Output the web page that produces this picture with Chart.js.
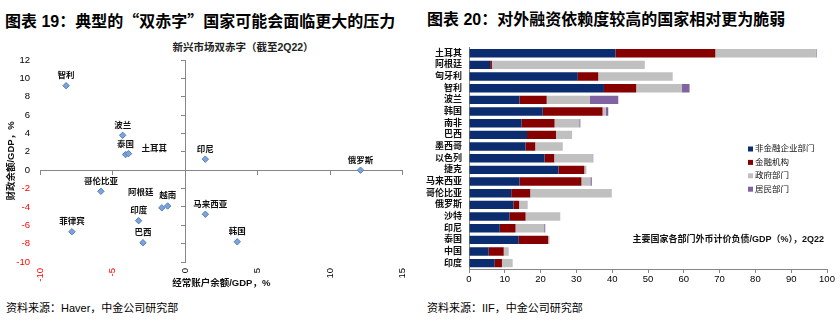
<!DOCTYPE html>
<html>
<head>
<meta charset="utf-8">
<script src="https://cdn.jsdelivr.net/npm/chart.js@4"></script>
<style>
  body { margin: 0; width: 840px; height: 325px; background: #fff; position: relative; overflow: hidden;
         font-family: "Liberation Sans", "Noto Sans CJK SC", sans-serif; color: #000; }
  .title { position: absolute; top: 10px; line-height: 20px; font-size: 16px; font-weight: bold; white-space: nowrap; }
  .cjk { font-family: "Noto Sans CJK SC", sans-serif; }
  .sub { position: absolute; font-size: 10.5px; font-weight: bold; white-space: nowrap; color: #222; }
  .source { position: absolute; top: 300px; line-height: 16px; font-size: 11px; white-space: nowrap; }
  canvas { position: absolute; top: 35px; }
</style>
</head>
<body>
<div class="title" style="left:5px">图表 19：典型的<span class="cjk">“</span>双赤字<span class="cjk">”</span>国家可能会面临更大的压力</div>
<div class="title" style="left:427px">图表 20：对外融资依赖度较高的国家相对更为脆弱</div>
<div class="sub" style="left:243px; top:39px; transform: translateX(-50%);">新兴市场双赤字（截至2Q22）</div>
<canvas id="twinChart" width="420" height="260" style="left:0"></canvas>
<canvas id="debtChart" width="420" height="260" style="left:420px"></canvas>
<div class="source" style="left:6px">资料来源：Haver，中金公司研究部</div>
<div class="source" style="left:427px">资料来源：IIF，中金公司研究部</div>

<script>
// ---- left chart: current account vs fiscal balance (% of GDP)
const countries = ["智利", "波兰", "泰国", "土耳其", "印尼", "俄罗斯", "哥伦比亚", "阿根廷", "越南", "印度", "菲律宾", "巴西", "马来西亚", "韩国"];
const currentAccount = [-8.2, -4.3, -4.1, -3.9, 1.4, 12.1, -5.8, -1.6, -1.2, -3.2, -7.8, -2.9, 1.4, 3.6];
const fiscalBalance = [9.2, 3.8, 1.7, 1.8, 1.2, 0.0, -2.3, -4.1, -3.9, -5.5, -6.7, -7.9, -4.8, -7.8];
const xTicks = [-10, -5, 0, 5, 10, 15];
const yTicks = [-10, -8, -6, -4, -2, 0, 2, 4, 6, 8, 10, 12];

// ---- right chart: FX-denominated debt / GDP by sector
const debtCountries = ["土耳其", "阿根廷", "匈牙利", "智利", "波兰", "韩国", "南非", "巴西", "墨西哥", "以色列", "捷克", "马来西亚", "哥伦比亚", "俄罗斯", "沙特", "印尼", "泰国", "中国", "印度"];
const nonFinCorp = [40.9, 5.9, 30.4, 37.7, 14.1, 20.6, 14.7, 16.2, 15.8, 21.1, 25.0, 14.1, 11.8, 12.4, 11.3, 8.6, 13.9, 5.5, 7.2];
const financial = [27.9, 0.5, 5.7, 9.0, 7.6, 16.7, 9.2, 8.1, 2.7, 2.7, 7.2, 17.3, 5.3, 1.6, 4.5, 4.4, 8.2, 4.2, 2.0];
const government = [28.1, 42.5, 20.8, 12.8, 12.1, 0.9, 6.9, 4.5, 7.7, 10.7, 0.6, 2.5, 22.8, 2.4, 9.7, 8.0, 0.4, 1.4, 3.0];
const household = [0.2, 0.1, 0, 2.1, 7.9, 0.7, 0.3, 0, 0, 0.2, 0, 0.4, 0, 0, 0, 0.3, 0, 0, 0];
const sectorNames = ["非金融企业部门", "金融机构", "政府部门", "居民部门"];
const debtTicks = [0, 10, 20, 30, 40, 50, 60, 70, 80, 90, 100];

Chart.defaults.font.family = '"Liberation Sans", "Noto Sans CJK SC", sans-serif';
Chart.defaults.color = "#000";

const AXIS = "#868686";
const negRed = ctx => (ctx.tick && ctx.tick.value < 0 ? "#ff0000" : "#000");

// labels next to the scatter points; most sit just above the marker
const labelShift = { "土耳其": [13, -5, "left"], "阿根廷": [-21, -15, "center"], "马来西亚": [5, -10, "center"] };
const pointLabels = {
  id: "pointLabels",
  afterDatasetsDraw(chart) {
    const c = chart.ctx;
    const meta = chart.getDatasetMeta(0);
    c.save();
    c.font = 'bold 8.5px "Liberation Sans", "Noto Sans CJK SC", sans-serif';
    c.fillStyle = "#111";
    c.textBaseline = "middle";
    meta.data.forEach((pt, i) => {
      const name = countries[i];
      const s = labelShift[name] || [0, -10, "center"];
      c.textAlign = s[2];
      c.fillText(name, pt.x + s[0], pt.y + s[1]);
    });
    c.restore();
  }
};

new Chart(document.getElementById("twinChart"), {
  type: "scatter",
  data: {
    datasets: [{
      data: countries.map((_, i) => ({ x: currentAccount[i], y: fiscalBalance[i] })),
      pointStyle: "rectRot",
      pointRadius: 3.2,
      backgroundColor: "#7fa3d6",
      borderColor: "#4f7fc0",
      borderWidth: 1
    }]
  },
  options: {
    responsive: false,
    animation: false,
    layout: { padding: { left: 0, right: 11, top: 25, bottom: 0 } },
    plugins: { legend: { display: false }, tooltip: { enabled: false } },
    scales: {
      x: {
        type: "linear", position: "bottom", min: -10, max: 15,
        afterFit: s => { s.height = 33; },
        afterBuildTicks: s => { s.ticks = xTicks.map(v => ({ value: v })); },
        ticks: { minRotation: 90, maxRotation: 90, padding: 6, font: { size: 9.5 }, color: negRed },
        grid: { display: false, drawTicks: false },
        border: { display: false },
        title: { display: true, text: "经常账户余额/GDP，%", font: { size: 9.5, weight: "bold" }, color: "#111", padding: { top: 0, bottom: 6 } }
      },
      y: {
        type: "linear", position: "left", min: -10, max: 12,
        afterFit: s => { s.width = 40; },
        afterBuildTicks: s => { s.ticks = yTicks.map(v => ({ value: v })); },
        ticks: { padding: 10, font: { size: 9.5 }, color: negRed },
        grid: { display: false, drawTicks: false },
        border: { display: false },
        title: { display: true, text: "财政余额/GDP，%", font: { size: 9.5, weight: "bold" }, color: "#111", padding: { top: 6, bottom: 0 } }
      },
      // axis lines crossing at the origin
      x2: {
        type: "linear", position: { y: 0 }, min: -10, max: 15,
        afterBuildTicks: s => { s.ticks = xTicks.map(v => ({ value: v })); },
        ticks: { display: false },
        grid: { drawOnChartArea: false, tickLength: 4, color: AXIS },
        border: { color: AXIS, width: 1 }
      },
      y2: {
        type: "linear", position: { x: 0 }, min: -10, max: 12,
        afterBuildTicks: s => { s.ticks = yTicks.map(v => ({ value: v })); },
        ticks: { display: false },
        grid: { drawOnChartArea: false, tickLength: 4, color: AXIS },
        border: { color: AXIS, width: 1 }
      }
    }
  },
  plugins: [pointLabels]
});

// legend + note drawn inside the plot area, like the original
const sectorColors = ["#0b2c6e", "#870000", "#c0c0c0", "#8064a2"];
const innerLegend = {
  id: "innerLegend",
  afterDraw(chart) {
    const c = chart.ctx;
    c.save();
    c.font = '8.5px "Liberation Sans", "Noto Sans CJK SC", sans-serif';
    c.textBaseline = "middle";
    c.textAlign = "left";
    chart.data.datasets.forEach((ds, i) => {
      const y = 114 + i * 13.4;
      c.fillStyle = ds.backgroundColor;
      c.fillRect(328, y - 2.5, 5, 5);
      c.fillStyle = "#111";
      c.fillText(ds.label, 335, y);
    });
    c.font = 'bold 9px "Liberation Sans", "Noto Sans CJK SC", sans-serif';
    c.textAlign = "right";
    c.fillText("主要国家各部门外币计价负债/GDP（%），2Q22", 404, 205);
    c.restore();
  }
};

new Chart(document.getElementById("debtChart"), {
  type: "bar",
  data: {
    labels: debtCountries,
    datasets: [nonFinCorp, financial, government, household].map((vals, i) => ({
      label: sectorNames[i],
      data: vals,
      backgroundColor: sectorColors[i],
      borderWidth: 0,
      barPercentage: 0.72,
      categoryPercentage: 1
    }))
  },
  options: {
    indexAxis: "y",
    responsive: false,
    animation: false,
    layout: { padding: { left: 0, right: 13, top: 9, bottom: 0 } },
    plugins: { legend: { display: false }, tooltip: { enabled: false } },
    scales: {
      x: {
        stacked: true, min: 0, max: 100,
        afterFit: s => { s.height = 26; },
        afterBuildTicks: s => { s.ticks = debtTicks.map(v => ({ value: v })); },
        ticks: { padding: 1, font: { size: 9.5 }, color: "#000" },
        grid: { drawOnChartArea: false, tickLength: 4, color: AXIS },
        border: { color: AXIS }
      },
      y: {
        stacked: true,
        afterFit: s => { s.width = 49; },
        ticks: { autoSkip: false, padding: 7, font: { size: 9, weight: "bold" }, color: "#111" },
        grid: { display: false, drawTicks: false },
        border: { color: AXIS }
      }
    }
  },
  plugins: [innerLegend]
});
</script>
</body>
</html>
